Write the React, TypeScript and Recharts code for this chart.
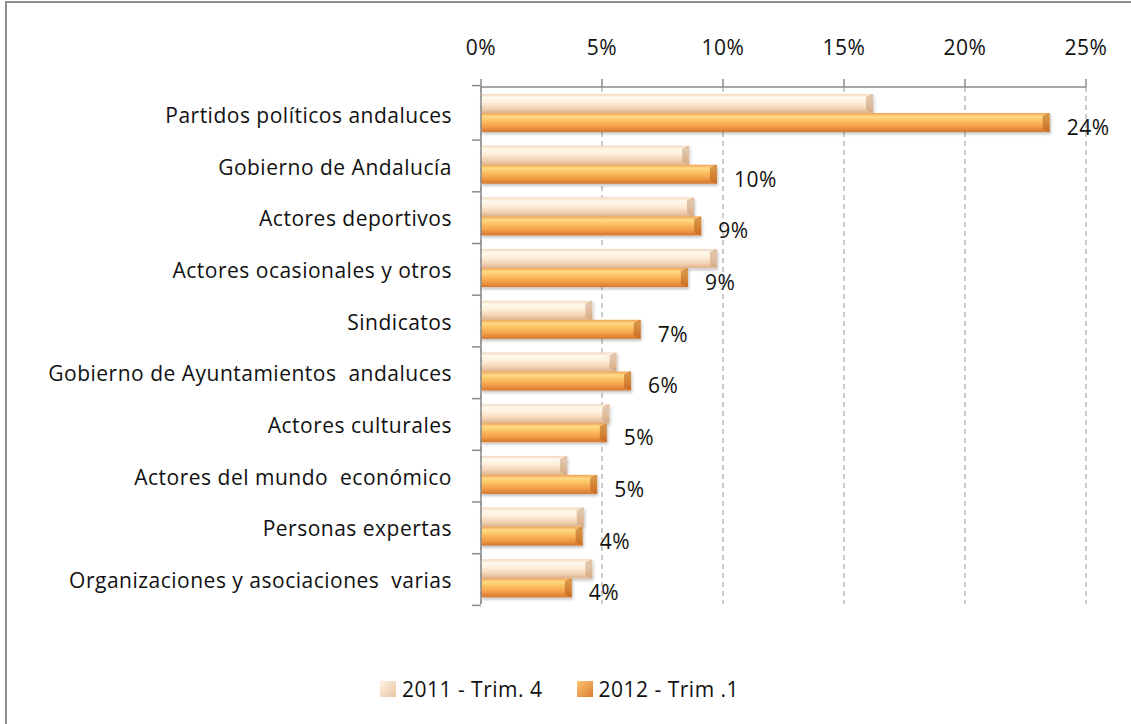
import { BarChart, Bar, XAxis, YAxis, CartesianGrid, Legend, LabelList } from "recharts";

const categories = [
  "Partidos políticos andaluces",
  "Gobierno de Andalucía",
  "Actores deportivos",
  "Actores ocasionales y otros",
  "Sindicatos",
  "Gobierno de Ayuntamientos  andaluces",
  "Actores culturales",
  "Actores del mundo  económico",
  "Personas expertas",
  "Organizaciones y asociaciones  varias",
];
const trim2011q4 = [16.2, 8.6, 8.8, 9.75, 4.6, 5.6, 5.3, 3.55, 4.25, 4.6];
const trim2012q1 = [23.5, 9.75, 9.1, 8.55, 6.6, 6.2, 5.2, 4.8, 4.2, 3.75];
const xTicks = [0, 5, 10, 15, 20, 25];
const seriesNames = ["2011 - Trim. 4", "2012 - Trim .1"];

const data = categories.map((name, i) => ({ name, a: trim2011q4[i], b: trim2012q1[i] }));

const FONT = "'Open Sans', Lato, sans-serif";
const FS = 21;
const LS = 0.5;
const PLOT_TOP = 87;
const PLOT_BOTTOM = 632;
const BAND = (PLOT_BOTTOM - PLOT_TOP) / categories.length;

function BarShape(props: any) {
  const { x, y, width, height, grad, cap } = props;
  if (!width || width <= 0) return null;
  const c = Math.min(7, width);
  return (
    <g filter="url(#shadow)">
      <rect x={x} y={y} width={width} height={height} fill={`url(#${grad})`} />
      <polygon
        points={`${x + width - c},${y + 3} ${x + width},${y} ${x + width},${y + height} ${x + width - c},${y + height - 3}`}
        fill={cap}
        opacity={0.55}
      />
    </g>
  );
}

function CatTick(props: any) {
  const { x, y, payload, index } = props;
  const axisX = x + 29;
  return (
    <g>
      <text
        x={x}
        y={y}
        dy={10}
        textAnchor="end"
        fontFamily={FONT}
        fontSize={FS}
        letterSpacing={LS}
        fill="#111"
        style={{ whiteSpace: "pre" }}
      >
        {payload.value}
      </text>
      <line x1={axisX - 9} x2={axisX} y1={y + BAND / 2} y2={y + BAND / 2} stroke="#8a8a8a" strokeWidth={1.5} />
      {index === 0 && (
        <line x1={axisX - 9} x2={axisX} y1={y - BAND / 2} y2={y - BAND / 2} stroke="#8a8a8a" strokeWidth={1.5} />
      )}
    </g>
  );
}

function LegendContent() {
  const items = [
    { name: seriesNames[0], grad: "legA" },
    { name: seriesNames[1], grad: "legB" },
  ];
  return (
    <div
      style={{
        display: "flex",
        justifyContent: "center",
        gap: 34,
        fontFamily: FONT,
        fontSize: FS,
        letterSpacing: LS,
        color: "#111",
        paddingRight: 12,
      }}
    >
      {items.map((it) => (
        <div key={it.name} style={{ display: "flex", alignItems: "center", gap: 6 }}>
          <svg width={16} height={16}>
            <rect x={0} y={0} width={16} height={16} fill={`url(#${it.grad})`} />
          </svg>
          <span>{it.name}</span>
        </div>
      ))}
    </div>
  );
}

export default function App() {
  return (
    <div style={{ position: "absolute", left: 0, top: 0, width: 1131, height: 724, background: "#fff" }}>
      <div
        style={{
          position: "absolute",
          left: 5,
          top: 1,
          right: 0,
          bottom: 0,
          borderTop: "2px solid #8e8e8e",
          borderLeft: "2px solid #8e8e8e",
        }}
      />
      <svg width={0} height={0} style={{ position: "absolute" }}>
        <defs>
          <linearGradient id="legA" x1="0" y1="0" x2="1" y2="1">
            <stop offset="0%" stopColor="#fff3e2" />
            <stop offset="100%" stopColor="#e9c4a2" />
          </linearGradient>
          <linearGradient id="legB" x1="0" y1="0" x2="1" y2="1">
            <stop offset="0%" stopColor="#fcc470" />
            <stop offset="100%" stopColor="#dc7c30" />
          </linearGradient>
        </defs>
      </svg>
      <BarChart
        width={1131}
        height={724}
        data={data}
        layout="vertical"
        margin={{ top: 47, right: 45, bottom: 92, left: 6 }}
        barCategoryGap="13%"
        barGap={0}
        style={{ position: "absolute", left: 0, top: 0 }}
      >
        <defs>
          <linearGradient id="gradA" x1="0" y1="0" x2="0" y2="1">
            <stop offset="0%" stopColor="#f2d6bb" />
            <stop offset="18%" stopColor="#fff9ec" />
            <stop offset="45%" stopColor="#fdeedb" />
            <stop offset="75%" stopColor="#f3d3b4" />
            <stop offset="100%" stopColor="#ddb48f" />
          </linearGradient>
          <linearGradient id="gradB" x1="0" y1="0" x2="0" y2="1">
            <stop offset="0%" stopColor="#f2a152" />
            <stop offset="18%" stopColor="#ffda86" />
            <stop offset="40%" stopColor="#fcc263" />
            <stop offset="70%" stopColor="#f5a04a" />
            <stop offset="100%" stopColor="#d5772e" />
          </linearGradient>
          <filter id="shadow" x="-5%" y="-30%" width="115%" height="180%">
            <feDropShadow dx="1" dy="2" stdDeviation="1.5" floodColor="#000" floodOpacity="0.25" />
          </filter>
        </defs>
        <CartesianGrid horizontal={false} stroke="#b0b0b0" strokeDasharray="5 4" strokeWidth={1.3} />
        <XAxis
          type="number"
          orientation="top"
          domain={[0, 25]}
          ticks={xTicks}
          tickFormatter={(v) => `${v}%`}
          height={40}
          tickSize={8}
          tickMargin={24}
          axisLine={{ stroke: "#8a8a8a", strokeWidth: 1.5 }}
          tickLine={{ stroke: "#8a8a8a", strokeWidth: 1.5 }}
          tick={{ fontFamily: FONT, fontSize: FS, letterSpacing: LS, fill: "#111" }}
        />
        <YAxis
          type="category"
          dataKey="name"
          width={475}
          tickLine={false}
          tickSize={0}
          tickMargin={29}
          axisLine={{ stroke: "#8a8a8a", strokeWidth: 1.5 }}
          tick={<CatTick />}
          interval={0}
        />
        <Legend verticalAlign="bottom" wrapperStyle={{ top: 675, left: 0, width: 1131 }} content={<LegendContent />} />
        <Bar dataKey="a" name={seriesNames[0]} barSize={19} isAnimationActive={false} shape={<BarShape grad="gradA" cap="#c99a74" />} />
        <Bar dataKey="b" name={seriesNames[1]} barSize={19} isAnimationActive={false} shape={<BarShape grad="gradB" cap="#b45f1c" />}>
          <LabelList
            dataKey="b"
            position="right"
            offset={17}
            dy={5}
            formatter={(v: any) => `${Math.round(v)}%`}
            style={{ fontFamily: FONT, fontSize: FS, letterSpacing: LS, fill: "#111" }}
          />
        </Bar>
      </BarChart>
    </div>
  );
}
